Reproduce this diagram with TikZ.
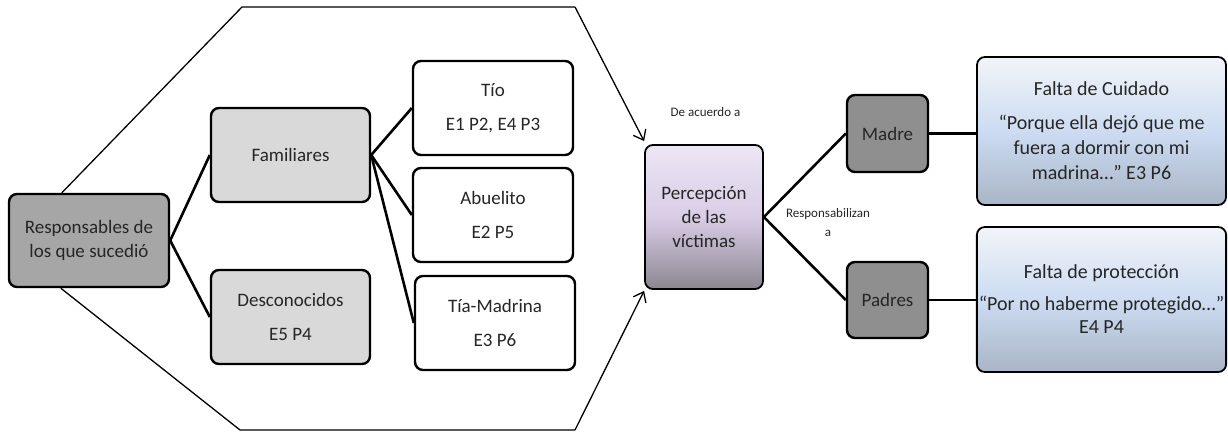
\documentclass[tikz,border=0pt]{standalone}
\usepackage{fontspec}
\setmainfont{Carlito}
\usetikzlibrary{arrows.meta,calc}
\definecolor{dgray}{HTML}{A6A6A6}
\definecolor{lgray}{HTML}{D9D9D9}
\definecolor{mgray}{HTML}{8F8F8F}
\definecolor{txt}{HTML}{262626}
\definecolor{ptop}{HTML}{ECE6F4}
\definecolor{pmid}{HTML}{D9CDE6}
\definecolor{pbot}{HTML}{8C8690}
\definecolor{qtop}{HTML}{F2F4F8}
\definecolor{qmid}{HTML}{CCDCF2}
\definecolor{qbot}{HTML}{A9B5C6}
\tikzset{
  base/.style={draw=black, line width=2.4pt, rounded corners=8pt, align=center, text=txt,
    font=\fontsize{19}{24}\selectfont, inner sep=2pt},
  dbox/.style={base, fill=dgray},
  lbox/.style={base, fill=lgray},
  wbox/.style={base, fill=white},
  pbox/.style={base, line width=1.8pt, top color=ptop, bottom color=pbot, middle color=pmid},
  qbox/.style={base, line width=1.8pt, top color=qtop, bottom color=qbot, middle color=qmid},
  conn/.style={line width=2.6pt},
  hex/.style={line width=1.3pt},
  small/.style={font=\fontsize{13}{19}\selectfont, text=txt, align=center},
}
\begin{document}
\begin{tikzpicture}[x=1pt,y=-1pt]
\useasboundingbox (0,0) rectangle (1228,432);
\node[dbox, minimum width=160, minimum height=93] (resp) at (89,240.5) {Responsables de\\los que sucedió};
\node[lbox, minimum width=159, minimum height=94] (fam) at (290.5,155) {Familiares};
\node[lbox, minimum width=159, minimum height=94] (desc) at (290.5,317) {Desconocidos\\[10pt]E5 P4};
\node[wbox, minimum width=160, minimum height=94] (tio) at (493,108) {Tío\\[10pt]E1 P2, E4 P3};
\node[wbox, minimum width=160, minimum height=94] (abu) at (493,215) {Abuelito\\[10pt]E2 P5};
\node[wbox, minimum width=160, minimum height=94] (tia) at (495,323) {Tía-Madrina\\[10pt]E3 P6};
\node[pbox, minimum width=118, minimum height=144] (perc) at (704,217) {Percepción\\de las\\víctimas};
\node[base, fill=mgray, minimum width=81, minimum height=77] (madre) at (887.5,133.5) {Madre};
\node[base, fill=mgray, minimum width=81, minimum height=76] (padres) at (887.5,300) {Padres};
\node[qbox, minimum width=249, minimum height=148, font=\fontsize{20}{25}\selectfont] (fc) at (1101.5,131)
  {Falta de Cuidado\\[9pt]“Porque ella dejó que me\\fuera a dormir con mi\\madrina…” E3 P6};
\node[qbox, minimum width=249, minimum height=145, font=\fontsize{20}{23}\selectfont] (fp) at (1101.5,299.5)
  {Falta de protección\\[9pt]“Por no haberme protegido…”\\E4 P4};
\node[small] (acuerdo) at (705.5,112) {De acuerdo a};
\node[small] (respz) at (828,223) {Responsabilizan\\a};

\draw[conn] (resp.east) -- (fam.west);
\draw[conn] (resp.east) -- (desc.west);
\draw[conn] (fam.east) -- (tio.west);
\draw[conn] (fam.east) -- (abu.west);
\draw[conn] (fam.east) -- (tia.west);
\draw[conn] (perc.east) -- (madre.west);
\draw[conn] (perc.east) -- (padres.west);
\draw[conn] (madre.east) -- (fc.west |- madre.east);
\draw[conn] (padres.east) -- (fp.west |- padres.east);

\coordinate (h1) at (242,7);
\coordinate (h2) at (575,7);
\coordinate (h3) at (240,430);
\coordinate (h4) at (575,430);
\draw[hex] ($(resp.north west)+(54,0)$) -- (h1) -- (h2);
\draw[hex, -{Straight Barb[length=9pt,width=14pt]}] (h2) -- ($(perc.north west)+(0,-3)$);
\draw[hex] ($(resp.south west)+(53,0)$) -- (h3) -- (h4);
\draw[hex, -{Straight Barb[length=9pt,width=14pt]}] (h4) -- ($(perc.south west)+(0,1)$);
\end{tikzpicture}
\end{document}
